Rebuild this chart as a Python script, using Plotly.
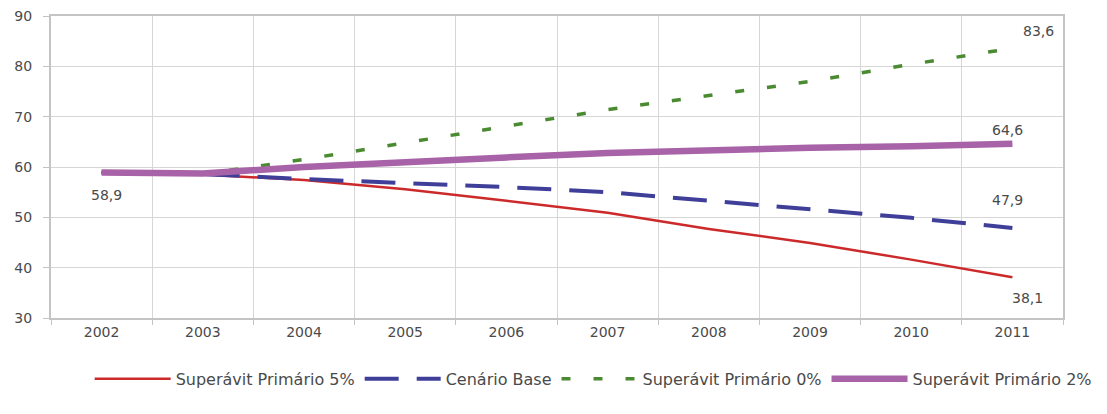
import plotly.graph_objects as go

# Dívida / PIB (%) sob diferentes cenários de superávit primário
anos = ["2002", "2003", "2004", "2005", "2006", "2007", "2008", "2009", "2010", "2011"]

superavit_5 = [58.9, 58.5, 57.4, 55.6, 53.3, 50.9, 47.7, 44.9, 41.6, 38.1]
cenario_base = [58.9, 58.6, 57.6, 56.8, 56.0, 55.0, 53.3, 51.5, 49.9, 47.9]
superavit_0 = [58.9, 58.6, 61.5, 64.8, 68.0, 71.4, 74.2, 77.0, 80.4, 83.6]
superavit_2 = [58.9, 58.7, 60.0, 61.1, 61.9, 62.8, 63.4, 63.8, 64.1, 64.6]

y_ticks = [30, 40, 50, 60, 70, 80, 90]

FONT = "DejaVu Sans, Liberation Sans, Arial, sans-serif"
TEXT = "#4a4a4a"
GRID = "#d6d6d6"
FRAME = "#c4c4c4"

fig = go.Figure()

fig.add_trace(go.Scatter(
    x=anos, y=superavit_5, mode="lines", name="Superávit Primário 5%",
    line=dict(color="#cc2a2a", width=2.5),
))
fig.add_trace(go.Scatter(
    x=anos, y=cenario_base, mode="lines", name="Cenário Base",
    line=dict(color="#3f3f9a", width=4, dash="34px,18px"),
))
fig.add_trace(go.Scatter(
    x=anos, y=superavit_0, mode="lines", name="Superávit Primário 0%",
    line=dict(color="#4a8a30", width=3.5, dash="9px,23px"),
))
fig.add_trace(go.Scatter(
    x=anos, y=superavit_2, mode="lines", name="Superávit Primário 2%",
    line=dict(color="#a862a8", width=6.5),
))


def rotulo(v):
    return f"{v:.1f}".replace(".", ",")


# rótulos de valor: ponto inicial e finais de cada cenário (x como índice da categoria)
ultimo = len(anos) - 1
labels = [
    (0, superavit_2[0], 5, -22),
    (ultimo, superavit_0[-1], 26, 17),
    (ultimo, superavit_2[-1], -5, 14),
    (ultimo, cenario_base[-1], -5, 28),
    (ultimo, superavit_5[-1], 15, -21),
]
for xi, yv, dx, dy in labels:
    fig.add_annotation(
        x=xi, y=yv, xref="x", yref="y", text=rotulo(yv), showarrow=False,
        xshift=dx, yshift=dy, font=dict(family=FONT, size=14, color=TEXT),
    )

fig.update_xaxes(
    type="category", tickson="boundaries", showgrid=True, gridcolor=GRID, gridwidth=1,
    showline=True, linecolor=FRAME, linewidth=2, mirror=True,
    ticks="outside", ticklen=5, tickcolor=FRAME,
    tickfont=dict(family=FONT, size=14, color=TEXT),
    range=[-0.5, len(anos) - 0.5],
)
fig.update_yaxes(
    range=[30, 90], tickvals=y_ticks, showgrid=True, gridcolor=GRID, gridwidth=1,
    showline=True, linecolor=FRAME, linewidth=2, mirror=True,
    ticks="outside", ticklen=6, tickcolor=FRAME, ticklabelstandoff=8,
    tickfont=dict(family=FONT, size=14, color=TEXT), zeroline=False,
)

fig.update_layout(
    width=1107, height=414,
    margin=dict(l=51, r=44, t=16, b=96, autoexpand=False),
    paper_bgcolor="white", plot_bgcolor="white",
    showlegend=True,
    legend=dict(
        orientation="h", xref="container", yref="container",
        x=0.081, xanchor="left", y=0.126, yanchor="top",
        font=dict(family=FONT, size=16, color=TEXT),
        itemwidth=76, tracegroupgap=0, traceorder="normal",
    ),
)

fig.write_html("out.html")
